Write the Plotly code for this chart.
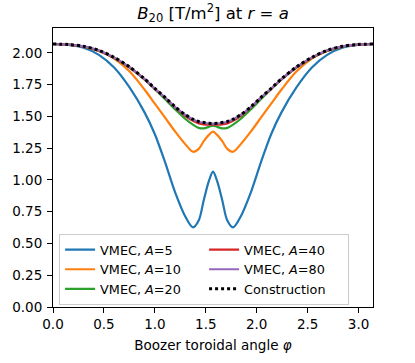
import plotly.graph_objects as go

# toroidal angle samples (rad)
phi = [0.0, 0.15, 0.3, 0.45, 0.6, 0.75, 0.9, 1.0, 1.1, 1.2, 1.3, 1.374, 1.43, 1.48, 1.53,
       1.5708,
       1.6116, 1.6616, 1.7116, 1.7676, 1.8416, 1.9416, 2.0416, 2.1416, 2.2416, 2.3916,
       2.5416, 2.6916, 2.8416, 2.9916, 3.1416]

b20_a5 = [2.07, 2.062, 2.04, 1.985, 1.885, 1.73, 1.53, 1.36, 1.14, 0.90, 0.71, 0.626, 0.68, 0.84, 0.99,
          1.065,
          0.99, 0.84, 0.68, 0.626, 0.71, 0.90, 1.14, 1.36, 1.53, 1.73,
          1.885, 1.985, 2.04, 2.062, 2.07]
b20_a10 = [2.07, 2.065, 2.05, 2.015, 1.955, 1.855, 1.71, 1.60, 1.49, 1.38, 1.28, 1.222, 1.245, 1.305, 1.355,
           1.38,
           1.355, 1.305, 1.245, 1.222, 1.28, 1.38, 1.49, 1.60, 1.71, 1.855,
           1.955, 2.015, 2.05, 2.065, 2.07]
b20_a20 = [2.07, 2.065, 2.05, 2.017, 1.96, 1.885, 1.79, 1.715, 1.635, 1.555, 1.48, 1.435, 1.41, 1.406, 1.418,
           1.428,
           1.418, 1.406, 1.41, 1.435, 1.48, 1.555, 1.635, 1.715, 1.79, 1.885,
           1.96, 2.017, 2.05, 2.065, 2.07]
b20_a40 = [2.07, 2.065, 2.05, 2.018, 1.962, 1.887, 1.792, 1.717, 1.647, 1.57, 1.503, 1.465, 1.445, 1.437, 1.435,
           1.437,
           1.435, 1.437, 1.445, 1.465, 1.503, 1.57, 1.647, 1.717, 1.792, 1.887,
           1.962, 2.018, 2.05, 2.065, 2.07]
b20_a80 = [2.07, 2.065, 2.051, 2.019, 1.963, 1.888, 1.793, 1.718, 1.648, 1.573, 1.511, 1.476, 1.458, 1.45, 1.444,
           1.443,
           1.444, 1.45, 1.458, 1.476, 1.511, 1.573, 1.648, 1.718, 1.793, 1.888,
           1.963, 2.019, 2.051, 2.065, 2.07]
b20_constr = [2.07, 2.066, 2.052, 2.02, 1.965, 1.89, 1.795, 1.72, 1.65, 1.575, 1.513, 1.478, 1.46, 1.452, 1.446,
              1.445,
              1.446, 1.452, 1.46, 1.478, 1.513, 1.575, 1.65, 1.72, 1.795, 1.89,
              1.965, 2.02, 2.052, 2.066, 2.07]

series = [
    ('VMEC, <i>A</i>=5', b20_a5, '#1f77b4', 1),
    ('VMEC, <i>A</i>=10', b20_a10, '#ff7f0e', 3),
    ('VMEC, <i>A</i>=20', b20_a20, '#2ca02c', 5),
    ('VMEC, <i>A</i>=40', b20_a40, '#d62728', 2),
    ('VMEC, <i>A</i>=80', b20_a80, '#9467bd', 4),
]

fig = go.Figure()
for name, vals, color, rank in series:
    fig.add_trace(go.Scatter(x=phi, y=vals, mode='lines', name=name,
                             line=dict(color=color, width=2.2, shape='spline', smoothing=0.9),
                             legendrank=rank))
fig.add_trace(go.Scatter(x=phi, y=b20_constr, mode='lines', name='Construction',
                         line=dict(color='black', width=3, dash='dot', shape='spline', smoothing=0.9),
                         legendrank=6))

axis_style = dict(showline=True, linecolor='black', linewidth=1.1, mirror=True,
                  ticks='outside', ticklen=5, tickwidth=1.1, tickcolor='black', showgrid=False,
                  zeroline=False, tickfont=dict(size=13.5, color='black'))

fig.update_layout(
    width=415, height=363,
    margin=dict(l=52, r=42, t=28, b=47),
    paper_bgcolor='white', plot_bgcolor='white',
    font=dict(family='DejaVu Sans', size=13.5, color='black'),
    title=dict(text='<i>B</i><sub>20</sub> [T/m<sup>2</sup>] at <i>r</i> = <i>a</i>',
               x=0.5, xref='paper', xanchor='center', yref='container', y=1 - 13 / 363,
               yanchor='middle', font=dict(size=16.5)),
    xaxis=dict(range=[0, 3.1416], tickvals=[0, 0.5, 1.0, 1.5, 2.0, 2.5, 3.0],
               tickformat='.1f',
               title=dict(text='Boozer toroidal angle <i>φ</i>', font=dict(size=13.5), standoff=9),
               **axis_style),
    yaxis=dict(range=[0, 2.196], tickvals=[0, 0.25, 0.5, 0.75, 1.0, 1.25, 1.5, 1.75, 2.0],
               tickformat='.2f', ticklabelstandoff=2, **axis_style),
    legend=dict(orientation='h', x=0.019, y=0.008, xanchor='left', yanchor='bottom',
                entrywidth=99, bgcolor='rgba(255,255,255,0.8)', bordercolor='#cccccc',
                borderwidth=1, font=dict(size=12.8), tracegroupgap=0),
    showlegend=True,
)

# drop the default 8px page margin so the figure sits at the window corner
fig.write_html('out.html', config={'displayModeBar': False},
               post_script="document.body.style.margin='0';")
